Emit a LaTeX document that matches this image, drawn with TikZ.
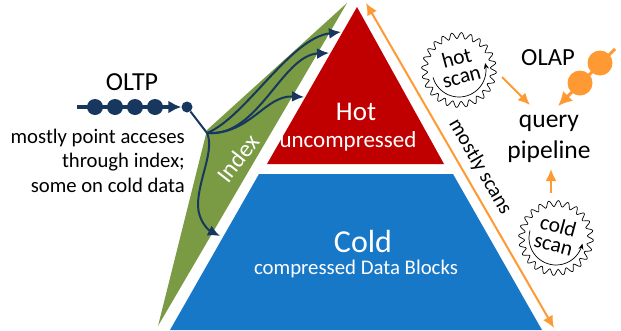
\documentclass[tikz,border=0pt]{standalone}
\usepackage{fontspec}
\setmainfont{Carlito}
\usetikzlibrary{arrows.meta}
\definecolor{hotred}{HTML}{C00000}
\definecolor{coldblue}{HTML}{1878C8}
\definecolor{indexgreen}{HTML}{7A9A44}
\definecolor{oltpnavy}{HTML}{17375E}
\definecolor{olaporange}{HTML}{FF9933}
\newcommand{\fsz}[1]{\fontsize{#1}{#1}\selectfont\setlength{\baselineskip}{1.2\baselineskip}}
\begin{document}
\begin{tikzpicture}[x=1pt,y=-1pt,
                every path/.style={>={Latex[length=12pt,width=11pt]}},
                txtlbl/.style={inner sep=0pt,align=center,font=\fsz{#1}},
                wlabel/.style={txtlbl=#1,text=white},
                oltp/.style={draw=oltpnavy,line width=2pt,->},
                olap/.style={draw=olaporange,line width=2pt,->},
                bead/.style={circle,fill=oltpnavy,inner sep=0pt,minimum size=#1},
                drop/.style={circle,fill=olaporange,inner sep=0pt,minimum size=25pt},
                gear/.style={draw=black,line width=0.7pt}]
  \useasboundingbox (0,0) rectangle (621,330);
  % storage layers
  \fill[indexgreen] (347,3) -- (207,130) -- (158,326) -- cycle;
  \fill[hotred] (357,7) -- (444,164) -- (267,164) -- cycle;
  \fill[coldblue] (259,174) -- (453,174) -- (542,330) -- (170,330) -- cycle;
  \node[wlabel=27] (hot)  at (356,112) {Hot};
  \node[wlabel=23] (unc)  at (348,141) {uncompressed};
  \node[wlabel=32] (cold) at (363,241) {Cold};
  \node[wlabel=20.8] (cmp)  at (356,269) {compressed Data Blocks};
  \node[wlabel=24,rotate=52] (index) at (238,158) {Index};
  % oltp side
  \node[txtlbl=26] (oltplbl) at (132,82) {OLTP};
  \node[txtlbl=20.7,align=right,anchor=north east] (oltptxt) at (185,128.5)
       {mostly point acceses\\through index;\\some on cold data};
  \coordinate (oltpstart) at (77,107);
  \coordinate (split) at (207,133);
  \coordinate (t1) at (341,32);
  \coordinate (t2) at (329,53);
  \coordinate (t3) at (304,97);
  \coordinate (t4) at (220,236);
  \node[bead=11pt] (entry) at (187,107) {};
  \draw[draw=oltpnavy,line width=4.5pt,-{Latex[length=13pt,width=13pt]}] (oltpstart) -- (entry.west);
  \foreach \i/\x in {1/95,2/115,3/135,4/155}
    \node[bead=16pt] (b\i) at (\x,107) {};
  \draw[draw=oltpnavy,line width=2pt] (entry) -- (split);
  \draw[oltp] (split) .. controls (245,118) and (290,38) .. (t1);
  \draw[oltp] (split) .. controls (258,138) and (282,55) .. (t2);
  \draw[oltp] (split) .. controls (250,135) and (265,95) .. (t3);
  \draw[oltp] (split) .. controls (215,150) and (198,180) .. (198,205) .. controls (198,220) and (208,230) .. (t4);
  % orange scan arrow
  \coordinate (scantop) at (366,3);
  \coordinate (scanbot) at (554,328);
  \draw[olap,<->] (scantop) -- (scanbot);
  \node[txtlbl=20.7,rotate=-60] (scans) at (480,167) {mostly scans};
  % gears
  \foreach \cx/\cy/\nm/\rot/\txt/\angf/\angt in {459/70/hotscan/15/hot/164/-15,556/238/coldscan/-15/cold/196/12} {
    \draw[gear] plot[smooth cycle,domain=0:359,samples=240,variable=\t]
      ({\cx+(34.5+3*sin(24*\t))*cos(\t)},{\cy+(34.5+3*sin(24*\t))*sin(\t)});
    \draw[line width=0.7pt,-{Stealth[length=6pt,width=5pt]}] plot[smooth,domain=\angf:\angt,samples=30,variable=\t]
      ({\cx+27*cos(\t)},{\cy+27*sin(\t)});
    \node[txtlbl=21.5,rotate=\rot] (\nm) at (\cx,\cy-3) {\txt\\[-7pt]scan};
  }
  % olap side
  \node[txtlbl=24.6] (olaplbl) at (548,58) {OLAP};
  \node[txtlbl=25.5] (pipe) at (549,139) {query\\pipeline};
  \coordinate (hotend) at (502,77);
  \coordinate (hottip) at (530,105);
  \coordinate (coldend) at (551,193);
  \coordinate (coldtip) at (551,169);
  \coordinate (olapstart) at (615,49);
  \coordinate (olaptip) at (558,106);
  \draw[olap] (hotend) -- (hottip);
  \draw[olap] (coldend) -- (coldtip);
  \draw[olap,line width=3pt,-{Latex[length=14pt,width=14pt]}] (olapstart) -- (olaptip);
  \node[drop] (d1) at (600,63) {};
  \node[drop] (d2) at (580,83) {};
\end{tikzpicture}
\end{document}
